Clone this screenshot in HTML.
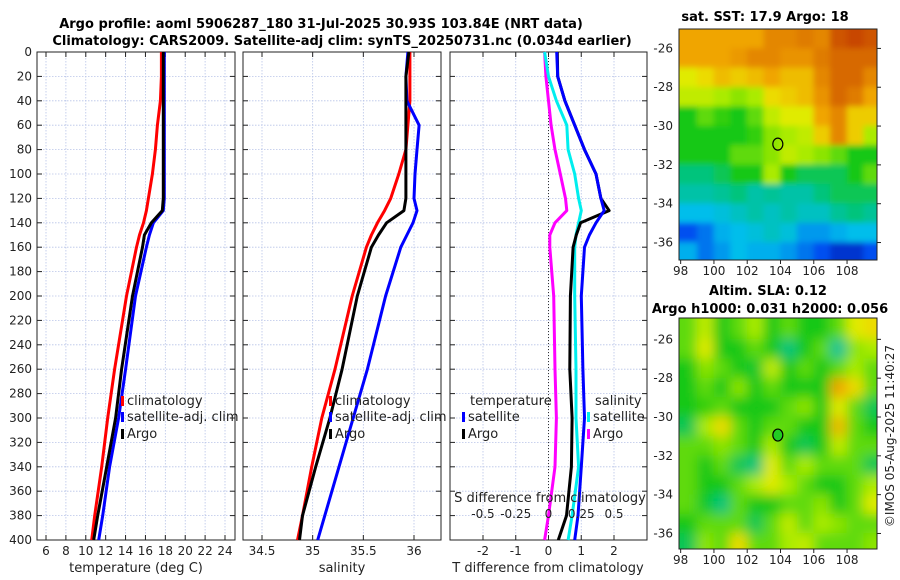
<!DOCTYPE html>
<html><head><meta charset="utf-8"><style>
body{margin:0;background:#fff;}
svg{display:block;font-family:"DejaVu Sans","Liberation Sans",sans-serif;}
</style></head><body>
<svg id="fig" width="900" height="580" xmlns="http://www.w3.org/2000/svg">
<text x="321" y="28" font-size="13" font-weight="bold" text-anchor="middle">Argo profile: aoml 5906287_180 31-Jul-2025 30.93S 103.84E (NRT data)</text>
<text x="342" y="45" font-size="13" font-weight="bold" text-anchor="middle">Climatology: CARS2009. Satellite-adj clim: synTS_20250731.nc (0.034d earlier)</text>
<text x="765" y="21" font-size="13" font-weight="bold" text-anchor="middle">sat. SST: 17.9 Argo: 18</text>
<text x="768" y="295" font-size="13" font-weight="bold" text-anchor="middle">Altim. SLA: 0.12</text>
<text x="770" y="313" font-size="13" font-weight="bold" text-anchor="middle">Argo h1000: 0.031 h2000: 0.056</text>
<text transform="translate(894,436) rotate(-90)" font-size="12" fill="#222" text-anchor="middle">©IMOS 05-Aug-2025 11:40:27</text>
<text x="136" y="572" font-size="13" fill="#222" text-anchor="middle">temperature (deg C)</text>
<text x="342" y="572" font-size="13" fill="#222" text-anchor="middle">salinity</text>
<text x="548" y="572" font-size="13" fill="#222" text-anchor="middle">T difference from climatology</text>
</svg>
<script>
// ---- data ----
const depths = [0,20,40,60,80,100,120,130,140,150,160,200,260,300,340,380,400];
const tempClim = [17.6,17.6,17.5,17.2,17.0,16.7,16.3,16.1,15.8,15.4,15.1,14.1,12.9,12.2,11.6,10.9,10.6];
const tempSat  = [17.9,17.9,17.9,17.9,17.9,17.9,17.9,17.8,16.8,16.4,16.1,15.0,14.0,13.3,12.4,11.7,11.3];
const tempArgo = [17.8,17.8,17.8,17.8,17.8,17.8,17.8,17.7,16.6,15.9,15.7,14.7,13.6,13.0,12.1,11.2,10.8];
const salClim = [35.96,35.96,35.96,35.94,35.92,35.85,35.77,35.71,35.64,35.58,35.53,35.39,35.22,35.09,34.99,34.90,34.85];
const salSat  = [35.94,35.92,35.93,36.05,36.03,36.01,36.00,36.03,35.99,35.93,35.87,35.72,35.54,35.40,35.26,35.12,35.05];
const salArgo = [35.95,35.92,35.92,35.92,35.92,35.92,35.92,35.90,35.73,35.65,35.58,35.44,35.29,35.17,35.03,34.90,34.87];
const dTSat  = [0.25,0.28,0.5,0.8,1.1,1.45,1.6,1.7,1.45,1.25,1.1,1.0,1.05,1.1,1.0,0.9,0.8];
const dTArgo = [0.27,0.28,0.5,0.8,1.1,1.45,1.6,1.85,0.98,0.85,0.75,0.67,0.65,0.72,0.7,0.55,0.3];
const dSSat  = [-0.03,0,0.06,0.14,0.15,0.2,0.23,0.25,0.23,0.21,0.2,0.2,0.21,0.21,0.23,0.18,0.15];
const dSArgo = [-0.03,-0.02,0,0.02,0.05,0.09,0.13,0.14,0.05,0.01,0.01,0.04,0.05,0.06,0.05,0.0,-0.03];
const depthTicks = [0,20,40,60,80,100,120,140,160,180,200,220,240,260,280,300,320,340,360,380,400];
const tempTicks = [6,8,10,12,14,16,18,20,22,24];
const salTicks = [34.5,35,35.5,36];
const dTTicks = [-2,-1,0,1,2];
const dSTicks = [-0.5,-0.25,0,0.25,0.5];
const latTicks = [-26,-28,-30,-32,-34,-36];
const lonTicks = [98,100,102,104,106,108];
const argoLon = 103.84, argoLat = -30.93;
// SST colour index grid (rows lat -25..-37, cols lon 98..110)
const sstGrid = [
[0.75,0.75,0.75,0.75,0.75,0.8,0.8,0.82,0.8,0.88,0.9,0.88],
[0.75,0.75,0.75,0.77,0.8,0.8,0.78,0.78,0.82,0.85,0.85,0.85],
[0.65,0.68,0.72,0.7,0.72,0.75,0.72,0.72,0.8,0.85,0.85,0.8],
[0.62,0.62,0.6,0.58,0.6,0.68,0.7,0.72,0.78,0.85,0.82,0.75],
[0.5,0.55,0.52,0.5,0.55,0.62,0.65,0.65,0.75,0.8,0.7,0.7],
[0.5,0.5,0.5,0.5,0.52,0.58,0.6,0.62,0.7,0.8,0.7,0.6],
[0.5,0.5,0.5,0.55,0.55,0.58,0.62,0.6,0.58,0.55,0.5,0.5],
[0.42,0.42,0.45,0.5,0.5,0.6,0.5,0.45,0.45,0.45,0.5,0.55],
[0.38,0.38,0.4,0.42,0.38,0.4,0.38,0.38,0.42,0.45,0.45,0.45],
[0.3,0.3,0.32,0.35,0.38,0.35,0.38,0.35,0.35,0.4,0.42,0.4],
[0.15,0.2,0.28,0.3,0.32,0.35,0.32,0.25,0.25,0.28,0.3,0.3],
[0.28,0.2,0.25,0.3,0.28,0.28,0.25,0.2,0.15,0.1,0.1,0.15]];
const slaGrid = [
[0.55,0.62,0.5,0.55,0.6,0.5,0.55,0.5,0.5,0.55,0.65,0.68],
[0.55,0.65,0.5,0.5,0.55,0.5,0.42,0.5,0.55,0.4,0.58,0.6],
[0.5,0.58,0.55,0.5,0.48,0.62,0.5,0.55,0.5,0.55,0.6,0.55],
[0.5,0.55,0.5,0.58,0.5,0.55,0.5,0.5,0.5,0.75,0.68,0.55],
[0.5,0.52,0.55,0.5,0.5,0.5,0.55,0.58,0.5,0.65,0.55,0.45],
[0.45,0.6,0.68,0.55,0.5,0.55,0.55,0.5,0.5,0.72,0.55,0.5],
[0.55,0.55,0.58,0.55,0.5,0.6,0.5,0.45,0.5,0.62,0.55,0.55],
[0.55,0.5,0.55,0.45,0.42,0.65,0.55,0.6,0.55,0.55,0.55,0.45],
[0.55,0.5,0.5,0.55,0.6,0.65,0.6,0.55,0.5,0.5,0.55,0.6],
[0.55,0.48,0.42,0.55,0.5,0.5,0.55,0.55,0.58,0.5,0.55,0.65],
[0.5,0.55,0.55,0.55,0.45,0.55,0.62,0.55,0.6,0.58,0.55,0.55],
[0.45,0.58,0.55,0.68,0.55,0.55,0.6,0.62,0.55,0.55,0.55,0.58]];

// ---- helpers ----
const NS="http://www.w3.org/2000/svg";
const svg=document.getElementById('fig');
function mk(tag,attrs,parent){const e=document.createElementNS(NS,tag);for(const k in attrs)e.setAttribute(k,attrs[k]);(parent||svg).appendChild(e);return e;}
const Y0=52,Y1=540;
const yDepth=d=>Y0+(d/400)*(Y1-Y0);
function lin(d0,d1,p0,p1){return v=>p0+(v-d0)/(d1-d0)*(p1-p0);}
const panels=[
 {name:'temperature',x0:37,x1:235,sx:lin(6,24,46,225),ticks:tempTicks},
 {name:'salinity',x0:243,x1:441,sx:lin(34.5,36,262,414),ticks:salTicks},
 {name:'difference',x0:450,x1:647,sx:lin(-2,2,483,614),ticks:dTTicks}];
const sS=lin(-0.5,0.5,483,614);

panels.forEach((p,pi)=>{
 const g=mk('g',{});
 
 
 p.ticks.forEach(t=>{const x=p.sx(t);
  const l=mk('line',{x1:x,x2:x,y1:Y0,y2:Y1,stroke:'#b8c4e8','stroke-width':0.8,'stroke-dasharray':'1.5,1.5'},g);
  
  mk('line',{x1:x,x2:x,y1:Y1,y2:Y1-5,stroke:'#222'},g);mk('line',{x1:x,x2:x,y1:Y0,y2:Y0+5,stroke:'#222'},g);
  const tx=mk('text',{x:x,y:555,'font-size':12,fill:'#222','text-anchor':'middle'},g);tx.textContent=t;
  
 });
 depthTicks.forEach(d=>{const y=yDepth(d);
  const l=mk('line',{x1:p.x0,x2:p.x1,y1:y,y2:y,stroke:'#b8c4e8','stroke-width':0.8,'stroke-dasharray':'1.5,1.5'},g);
  
  mk('line',{x1:p.x0,x2:p.x0+5,y1:y,y2:y,stroke:'#222'},g);mk('line',{x1:p.x1,x2:p.x1-5,y1:y,y2:y,stroke:'#222'},g);
  if(pi===0){const tx=mk('text',{x:32,y:y+4,'font-size':12,fill:'#222','text-anchor':'end'},g);tx.textContent=d;
   }
 });
 const fr=mk('rect',{x:p.x0,y:Y0,width:p.x1-p.x0,height:Y1-Y0,fill:'none',stroke:'#222','stroke-width':1},g);
 
 p.g=g;
});
function curve(g,vals,sx,color,name){
 const pts=vals.map((v,i)=>sx(v).toFixed(1)+','+yDepth(depths[i]).toFixed(1)).join(' ');
 const e=mk('polyline',{points:pts,fill:'none',stroke:color,'stroke-width':3,'stroke-linejoin':'round'},g);
 
}
const zl=mk('line',{x1:panels[2].sx(0),x2:panels[2].sx(0),y1:Y0,y2:Y1,stroke:'#333','stroke-dasharray':'1,2'},panels[2].g);

curve(panels[0].g,tempClim,panels[0].sx,'#f00','temp-climatology-line');
curve(panels[0].g,tempSat,panels[0].sx,'#00f','temp-satellite-line');
curve(panels[0].g,tempArgo,panels[0].sx,'#000','temp-argo-line');
curve(panels[1].g,salClim,panels[1].sx,'#f00','sal-climatology-line');
curve(panels[1].g,salSat,panels[1].sx,'#00f','sal-satellite-line');
curve(panels[1].g,salArgo,panels[1].sx,'#000','sal-argo-line');
curve(panels[2].g,dSArgo,sS,'#f0f','sdiff-argo-line');
curve(panels[2].g,dSSat,sS,'#0ee','sdiff-satellite-line');
curve(panels[2].g,dTArgo,panels[2].sx,'#000','tdiff-argo-line');
curve(panels[2].g,dTSat,panels[2].sx,'#00f','tdiff-satellite-line');
dSTicks.forEach(t=>{const tx=mk('text',{x:sS(t),y:518,'font-size':12,fill:'#222','text-anchor':'middle'},panels[2].g);tx.textContent=t;
 });
const sl=mk('text',{x:550,y:502,'font-size':13,fill:'#222','text-anchor':'middle'},panels[2].g);sl.textContent='S difference from climatology';

function legend(g,x,y,color,label){
 mk('rect',{x:x,y:y-9,width:3,height:10,fill:color},g);
 const t=mk('text',{x:x+6,y:y,'font-size':13,fill:'#222'},g);t.textContent=label;
 
}
[[panels[0].g,121],[panels[1].g,329]].forEach(([g,x])=>{
 legend(g,x,405,'#f00','climatology');legend(g,x,421,'#00f','satellite-adj. clim');legend(g,x,438,'#000','Argo');});
const th=mk('text',{x:470,y:405,'font-size':13,fill:'#222'},panels[2].g);th.textContent='temperature';

const shh=mk('text',{x:595,y:405,'font-size':13,fill:'#222'},panels[2].g);shh.textContent='salinity';

legend(panels[2].g,462,421,'#00f','satellite');legend(panels[2].g,462,438,'#000','Argo');
legend(panels[2].g,587,421,'#0ee','satellite');legend(panels[2].g,587,438,'#f0f','Argo');

// ---- maps ----
const cmapStops=[[0,[0,0,140]],[0.15,[0,80,240]],[0.3,[0,190,235]],[0.4,[0,195,150]],[0.5,[20,200,20]],[0.6,[170,235,0]],[0.66,[235,235,0]],[0.75,[240,165,0]],[0.85,[215,105,0]],[0.95,[185,35,0]],[1,[160,0,0]]];
function cmap(v){v=Math.max(0,Math.min(1,v));
 for(let i=1;i<cmapStops.length;i++){const [a,ca]=cmapStops[i-1],[b,cb]=cmapStops[i];
  if(v<=b){const t=(v-a)/(b-a);return 'rgb('+ca.map((c,k)=>Math.round(c+(cb[k]-c)*t)).join(',')+')';}}
 return 'rgb(160,0,0)';}
function map(grid,x0,x1,y0,y1,lat0,lat1,name,blur){
 const g=mk('g',{});
 const lon0=97.9,lon1=109.8;
 const sx=lin(lon0,lon1,x0,x1), sy=lin(lat0,lat1,y0,y1);
 const clip='clip'+name;const cp=mk('clipPath',{id:clip},g);mk('rect',{x:x0,y:y0,width:x1-x0,height:y1-y0},cp);
 const cg=mk('g',{'clip-path':'url(#'+clip+')'},g);
 const ig=mk('g',{filter:'url(#'+blur+')'},cg);
 grid.forEach((row,ri)=>row.forEach((v,ci)=>{
  const xa=sx(98+ci),xb=sx(99+ci),ya=sy(-25-ri),yb=sy(-26-ri);
  const c=mk('rect',{x:xa-0.3-(ci===0?20:0),y:ya-0.3-(ri===0?20:0),width:xb-xa+0.6+(ci===0||ci===11?20:0),height:yb-ya+0.6+(ri===0||ri===11?20:0),fill:cmap(v)},ig);
  
 }));
 mk('rect',{x:x0,y:y0,width:x1-x0,height:y1-y0,fill:'none',stroke:'#222'},g);
 latTicks.forEach(t=>{const y=sy(t);mk('line',{x1:x1,x2:x1+4,y1:y,y2:y,stroke:'#222'},g);
  const tx=mk('text',{x:x0-6,y:y+4,'font-size':12,fill:'#222','text-anchor':'end'},g);tx.textContent=t;
  });
 lonTicks.forEach(t=>{const x=sx(t);mk('line',{x1:x,x2:x,y1:y1,y2:y1+4,stroke:'#222'},g);
  const tx=mk('text',{x:x,y:y1+15,'font-size':12,fill:'#222','text-anchor':'middle'},g);tx.textContent=t;
  });
 const m=mk('ellipse',{cx:sx(argoLon),cy:sy(argoLat),rx:5,ry:6,fill:name==='sla-map'?'#2c2':'none',stroke:'#000','stroke-width':1.2},g);
 
}
const defs=mk('defs',{});
const f1=mk('filter',{id:'bl1',x:'-5%',y:'-5%',width:'110%',height:'110%'},defs);mk('feGaussianBlur',{stdDeviation:3},f1);
const f2=mk('filter',{id:'bl2',x:'-5%',y:'-5%',width:'110%',height:'110%'},defs);mk('feGaussianBlur',{stdDeviation:6},f2);
map(sstGrid,679,877,29,260,-25.0,-36.9,'sst-map','bl1');
map(slaGrid,679,877,318,549,-24.9,-36.8,'sla-map','bl2');
</script>
</body></html>
